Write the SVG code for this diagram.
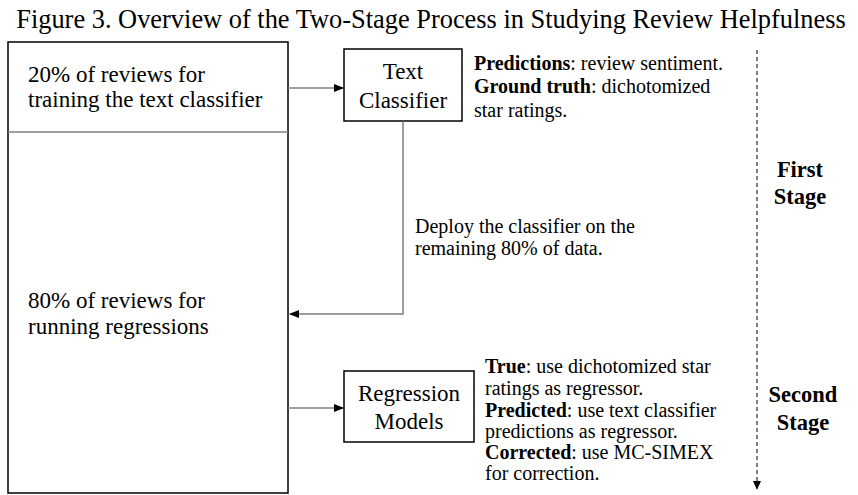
<svg xmlns="http://www.w3.org/2000/svg" width="858" height="495" viewBox="0 0 858 495">
<defs>
<style>
.t{font-family:"Liberation Serif","Times New Roman",serif;fill:#000}
.box{fill:#fff;stroke:#000;stroke-width:1.5}
.conn{fill:none;stroke:#7f7f7f;stroke-width:1.5}
.b{font-weight:bold}
.m{font-size:23px}
.n{font-size:20px}
.s{font-size:22.5px;font-weight:bold}
</style>
<marker id="ah" markerWidth="10" markerHeight="10" refX="9" refY="4" orient="auto" markerUnits="userSpaceOnUse">
<path d="M0,0 L10,4 L0,8 Z" fill="#000"/>
</marker>
<marker id="ah2" markerWidth="10" markerHeight="10" refX="8" refY="4" orient="auto" markerUnits="userSpaceOnUse">
<path d="M0,0 L9,4 L0,8 Z" fill="#000"/>
</marker>
</defs>
<rect width="858" height="495" fill="#fff"/>
<text class="t" x="431" y="28" font-size="26.4" text-anchor="middle">Figure 3. Overview of the Two-Stage Process in Studying Review Helpfulness</text>

<g id="data-box">
<rect class="box" x="8" y="42" width="280" height="451"/>
<line x1="8" y1="132" x2="288" y2="132" stroke="#7f7f7f" stroke-width="1.5"/>
</g>
<g id="train-split">
<text class="t m" x="28" y="82">20% of reviews for</text>
<text class="t m" x="28" y="107">training the text classifier</text>
</g>
<g id="reg-split">
<text class="t m" x="28" y="308">80% of reviews for</text>
<text class="t m" x="28" y="334">running regressions</text>
</g>

<g id="text-classifier">
<rect class="box" x="344" y="49" width="118" height="72"/>
<text class="t m" x="403" y="79" text-anchor="middle">Text</text>
<text class="t m" x="403" y="108" text-anchor="middle">Classifier</text>
</g>

<g id="regression-models">
<rect class="box" x="344" y="371" width="130" height="71"/>
<text class="t m" x="409" y="401" text-anchor="middle">Regression</text>
<text class="t m" x="409" y="429" text-anchor="middle">Models</text>
</g>

<g id="classifier-note">
<text class="t n" x="474" y="70"><tspan class="b">Predictions</tspan>: review sentiment.</text>
<text class="t n" x="474" y="93"><tspan class="b">Ground truth</tspan>: dichotomized</text>
<text class="t n" x="474" y="117">star ratings.</text>
</g>

<g id="deploy-note">
<text class="t n" x="415" y="233">Deploy the classifier on the</text>
<text class="t n" x="415" y="255">remaining 80% of data.</text>
</g>

<g id="regression-note">
<text class="t n" x="485" y="373"><tspan class="b">True</tspan>: use dichotomized star</text>
<text class="t n" x="485" y="395">ratings as regressor.</text>
<text class="t n" x="485" y="417"><tspan class="b">Predicted</tspan>: use text classifier</text>
<text class="t n" x="485" y="438">predictions as regressor.</text>
<text class="t n" x="485" y="459"><tspan class="b">Corrected</tspan>: use MC-SIMEX</text>
<text class="t n" x="485" y="480">for correction.</text>
</g>

<g id="first-stage">
<text class="t s" x="800" y="177" text-anchor="middle">First</text>
<text class="t s" x="800" y="204" text-anchor="middle">Stage</text>
</g>
<g id="second-stage">
<text class="t s" x="803" y="402" text-anchor="middle">Second</text>
<text class="t s" x="803" y="430" text-anchor="middle">Stage</text>
</g>

<g id="connectors">
<path class="conn" d="M288,88 L343,88" marker-end="url(#ah)"/>
<path class="conn" d="M403,121 L403,314 L290,314" marker-end="url(#ah)"/>
<path class="conn" d="M288,408 L343,408" marker-end="url(#ah)"/>
<path d="M757,50 L757,489" fill="none" stroke="#000" stroke-width="1" stroke-dasharray="4,3" marker-end="url(#ah2)"/>
</g>
</svg>
